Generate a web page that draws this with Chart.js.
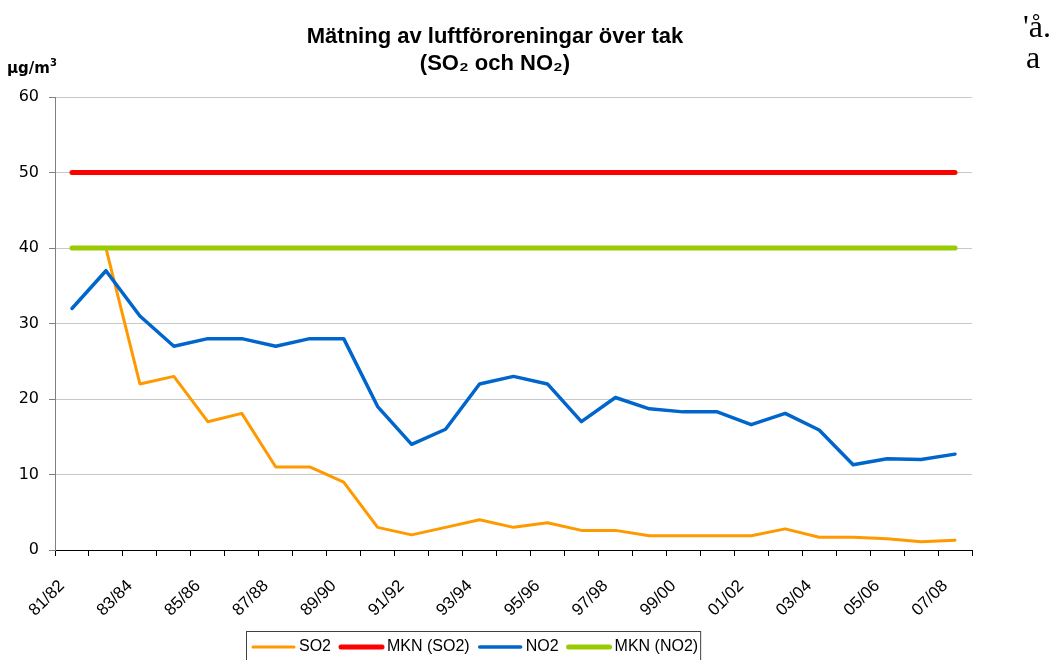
<!DOCTYPE html>
<html>
<head>
<meta charset="utf-8">
<script src="https://cdn.jsdelivr.net/npm/chart.js@4"></script>
<style>
  body { margin: 0; background: #fff; overflow: hidden; }
  #wrap { position: relative; width: 1052px; height: 660px; }
  #unit { position: absolute; left: 7px; top: 59px; line-height: 15px; font: bold 15px "DejaVu Sans", sans-serif; color: #000; }
  #unit span { font-size: 10px; position: relative; top: -7px; }
  .side { position: absolute; font: 32px/32px "Liberation Serif", "Times New Roman", serif; color: #000; }
</style>
</head>
<body>
<div id="wrap">
  <canvas id="air_chart" width="1052" height="660"></canvas>
  <div id="unit">µg/m<span>3</span></div>
  <div class="side" style="left:1023px; top:10px;">'å.</div>
  <div class="side" style="left:1026px; top:41px;">a</div>
</div>
<script>
const years = ['81/82', '82/83', '83/84', '84/85', '85/86', '86/87', '87/88', '88/89', '89/90', '90/91',
    '91/92', '92/93', '93/94', '94/95', '95/96', '96/97', '97/98', '98/99', '99/00', '00/01',
    '01/02', '02/03', '03/04', '04/05', '05/06', '06/07', '07/08'];
const so2 = [null, 40, 22, 23, 17, 18.1, 11, 11, 9, 3, 2, 3, 4, 3, 3.6, 2.6, 2.6, 1.9, 1.9, 1.9,
    1.9, 2.8, 1.7, 1.7, 1.5, 1.1, 1.3];
const no2 = [32, 37, 31, 27, 28, 28, 27, 28, 28, 19, 14, 16, 22, 23, 22, 17, 20.2, 18.7, 18.3, 18.3,
    16.6, 18.1, 15.9, 11.3, 12.1, 12.0, 12.7];
const mknSo2 = [50, 50, 50, 50, 50, 50, 50, 50, 50, 50, 50, 50, 50, 50, 50, 50, 50, 50, 50, 50,
    50, 50, 50, 50, 50, 50, 50];
const mknNo2 = [40, 40, 40, 40, 40, 40, 40, 40, 40, 40, 40, 40, 40, 40, 40, 40, 40, 40, 40, 40,
    40, 40, 40, 40, 40, 40, 40];
const yTicks = [0, 10, 20, 30, 40, 50, 60];
const titleLines = ['Mätning av luftföroreningar över tak', '(SO₂ och NO₂)'];

const FONT = '"Liberation Sans", Arial, sans-serif';

// legend drawn in a box under the axis, like the original
const boxLegend = {
    id: 'boxLegend',
    afterDraw(chart) {
        const ctx = chart.ctx;
        ctx.save();
        ctx.font = '16px ' + FONT;
        ctx.textBaseline = 'middle';
        const left = 246, top = 631, y = 647;
        let x = left + 7;
        chart.data.datasets.forEach(ds => {
            ctx.strokeStyle = ds.borderColor;
            ctx.lineWidth = ds.borderWidth;
            ctx.lineCap = 'round';
            ctx.beginPath();
            ctx.moveTo(x, y);
            ctx.lineTo(x + 41, y);
            ctx.stroke();
            ctx.fillStyle = '#000';
            ctx.fillText(ds.label, x + 46, y);
            x += 46 + ctx.measureText(ds.label).width + 10;
        });
        ctx.strokeStyle = '#404040';
        ctx.lineWidth = 1;
        ctx.strokeRect(left + 0.5, top + 0.5, x - 8 - left, 40);
        ctx.restore();
    }
};

function createAirChart() {
    const air_chart = document.getElementById('air_chart');
    const air_chart_data = {
        labels: years,
        datasets: [
            { label: 'SO2', data: so2, borderColor: '#FF9900', borderWidth: 3, order: 4 },
            { label: 'MKN (SO2)', data: mknSo2, borderColor: '#FF0000', borderWidth: 5, order: 3 },
            { label: 'NO2', data: no2, borderColor: '#0066CC', borderWidth: 3.5, order: 2 },
            { label: 'MKN (NO2)', data: mknNo2, borderColor: '#99CC00', borderWidth: 5, order: 1 }
        ]
    };

    const air_chart_config = {
        type: 'line',
        data: air_chart_data,
        options: {
            responsive: false,
            animation: false,
            elements: {
                point: { radius: 0 },
                line: { tension: 0, borderCapStyle: 'round', borderJoinStyle: 'round', fill: false }
            },
            layout: { padding: { left: 18, right: 80, top: 10, bottom: 10 } },
            plugins: {
                legend: { display: false },
                tooltip: { enabled: false },
                title: {
                    display: true,
                    text: titleLines,
                    color: '#000',
                    font: { family: FONT, size: 22, weight: 'bold', lineHeight: 1.23 },
                    padding: { top: 13, bottom: 20 }
                }
            },
            scales: {
                x: {
                    offset: true,
                    grid: { display: true, drawOnChartArea: false, offset: true, tickLength: 6, color: '#000' },
                    border: { color: '#000', width: 1 },
                    ticks: {
                        autoSkip: false,
                        maxRotation: 45,
                        minRotation: 45,
                        padding: 20,
                        labelOffset: -10,
                        color: '#000',
                        font: { family: FONT, size: 17 },
                        callback: (v, i) => (i % 2 === 0 ? years[i] : '')
                    },
                    afterFit: s => { s.height = 100; }
                },
                y: {
                    min: yTicks[0],
                    max: yTicks[yTicks.length - 1],
                    ticks: { stepSize: 10, color: '#000', padding: 10, font: { family: '"DejaVu Sans", sans-serif', size: 16 } },
                    grid: { color: '#c8c8c8', tickColor: '#808080', tickLength: 6 },
                    border: { color: '#808080', width: 1 },
                    afterFit: s => { s.width = 37; }
                }
            }
        },
        plugins: [boxLegend]
    };

    return new Chart(air_chart, air_chart_config);
}

createAirChart();
</script>
</body>
</html>
